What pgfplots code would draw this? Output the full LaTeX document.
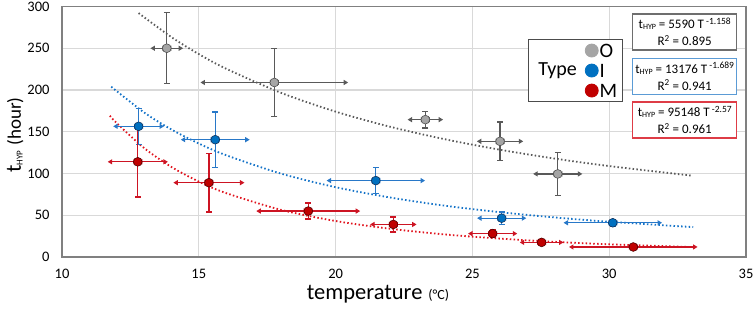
\documentclass[border=0pt]{standalone}
\usepackage{fontspec}
\setmainfont{Carlito}
\usepackage{pgfplots}
\usepackage{pgfplotstable}
\pgfplotsset{compat=1.18}
\usetikzlibrary{arrows.meta}

\definecolor{gridc}{RGB}{217,217,217}
\definecolor{framec}{RGB}{128,128,128}
\definecolor{ofill}{RGB}{165,165,165}
\definecolor{oedge}{RGB}{80,80,80}
\definecolor{oerr}{RGB}{89,89,89}
\definecolor{ifill}{RGB}{0,112,192}
\definecolor{iedge}{RGB}{20,50,90}
\definecolor{ierr}{RGB}{40,120,200}
\definecolor{mfill}{RGB}{192,0,0}
\definecolor{medge}{RGB}{80,0,0}
\definecolor{merr}{RGB}{205,20,35}
\definecolor{oline}{RGB}{89,89,89}
\definecolor{iline}{RGB}{20,115,200}
\definecolor{mline}{RGB}{225,20,30}
\definecolor{obox}{RGB}{110,110,110}
\definecolor{ibox}{RGB}{91,155,213}
\definecolor{mbox}{RGB}{222,60,70}

\pgfplotstableread{
x y ex ey
13.83 250 0.6 42.5
17.76 209 2.7 41
23.28 164.5 0.65 10
26.01 138.5 0.85 23
28.12 99.5 0.9 26
}\odata
\pgfplotstableread{
x y ex ey
12.8 156.5 0.93 21.5
15.6 140.5 1.26 33
21.47 91.5 1.8 15.5
26.07 46.5 0.9 7.5
30.13 41 1.8 4
}\idata
\pgfplotstableread{
x y ex ey
12.77 114 1.1 42
15.37 89 1.3 35
19.0 55 1.9 9.5
22.11 39 0.85 9
25.74 28 0.9 5
27.53 17.5 0.8 2
30.88 12 2.35 1.5
}\mdata

\tikzset{
  xarr/.style={line width=1.3pt, {Triangle[length=4.5pt,width=5pt]}-{Triangle[length=4.5pt,width=5pt]}},
}
\pgfplotsset{
  trend/.style={line width=1.8pt, dash pattern=on 1.5pt off 2.3pt, smooth, forget plot},
}

\begin{document}
\begin{tikzpicture}
\useasboundingbox (0,0) rectangle (754pt,312pt);
\begin{axis}[
  at={(62pt,55pt)}, anchor=south west,
  scale only axis, width=684pt, height=250.5pt,
  xmin=10, xmax=35, ymin=0, ymax=300,
  xtick={10,15,...,35}, ytick={0,50,...,300},
  grid=major, grid style={gridc, line width=1.1pt},
  axis line style={framec, line width=1.3pt},
  tick style={draw=none},
  ticklabel style={font=\fontsize{14.5}{16}\selectfont},
  xticklabel style={yshift=-9pt},
  yticklabel style={xshift=-9pt},
  /pgf/number format/assume math mode=true,
  legend style={at={(axis cs:27.03,260.9)}, anchor=north west,
    draw=black!70, fill=white, line width=0.8pt,
    inner xsep=5pt, inner ysep=4pt, row sep=6pt,
    nodes={inner sep=0pt, font=\fontsize{20.5}{20.5}\selectfont, text height=14pt, text depth=0pt},
    label={[anchor=west, xshift=7pt, font=\fontsize{20}{20}\selectfont]west:Type}},
  legend cell align=left,
  legend image code/.code={\path (-58pt,0pt) (7.5pt,0pt); \draw[#1] plot coordinates {(0pt,0pt)};},
]
% trend lines
\addplot[oline, trend] coordinates {
(12.8,292.1) (14,263.3) (15,243.0) (16,225.5) (18,196.7) (20,174.1) (22,155.9) (24,141.0) (26,128.5) (28,117.9) (30,108.9) (33,97.5)};
\addplot[iline, trend] coordinates {
(11.8,203.9) (13,173.1) (14,152.7) (15,135.9) (16,121.9) (18,99.9) (20,83.6) (22,71.2) (24,61.4) (26,53.7) (28,47.4) (30,42.2) (33.07,35.8)};
\addplot[mline, trend] coordinates {
(11.75,169.2) (12,160.3) (13,130.5) (14,107.8) (15,90.3) (16,76.5) (18,56.5) (20,43.1) (22,33.8) (24,27.0) (26,22.0) (28,18.2) (30,15.2) (33.1,11.8)};
% O error bars
\addplot[draw=none, mark=none, forget plot, error bars/.cd, x dir=both, x explicit, error mark=none,
  error bar style={xarr, draw=oerr, fill=oerr}] table[x=x, y=y, x error=ex] {\odata};
\addplot[draw=none, mark=none, forget plot, error bars/.cd, y dir=both, y explicit, error mark=-,
  error mark options={rotate=90, mark size=3pt, line width=1.3pt, draw=oerr},
  error bar style={line width=1.3pt, draw=oerr}] table[x=x, y=y, y error=ey] {\odata};
% I error bars
\addplot[draw=none, mark=none, forget plot, error bars/.cd, x dir=both, x explicit, error mark=none,
  error bar style={xarr, draw=ierr, fill=ierr}] table[x=x, y=y, x error=ex] {\idata};
\addplot[draw=none, mark=none, forget plot, error bars/.cd, y dir=both, y explicit, error mark=-,
  error mark options={rotate=90, mark size=3pt, line width=1.3pt, draw=ierr},
  error bar style={line width=1.3pt, draw=ierr}] table[x=x, y=y, y error=ey] {\idata};
% M error bars
\addplot[draw=none, mark=none, forget plot, error bars/.cd, x dir=both, x explicit, error mark=none,
  error bar style={xarr, draw=merr, fill=merr}] table[x=x, y=y, x error=ex] {\mdata};
\addplot[draw=none, mark=none, forget plot, error bars/.cd, y dir=both, y explicit, error mark=-,
  error mark options={rotate=90, mark size=3pt, line width=1.3pt, draw=merr},
  error bar style={line width=1.3pt, draw=merr}] table[x=x, y=y, y error=ey] {\mdata};
% markers
\addplot[only marks, mark=*, mark size=4.4pt, mark options={fill=ofill, draw=oedge, line width=0.6pt}, forget plot] table[x=x,y=y] {\odata};
\addplot[only marks, mark=*, mark size=4.4pt, mark options={fill=ifill, draw=iedge, line width=0.6pt}, forget plot] table[x=x,y=y] {\idata};
\addplot[only marks, mark=*, mark size=4.4pt, mark options={fill=mfill, draw=medge, line width=0.6pt}, forget plot] table[x=x,y=y] {\mdata};
% legend
\addlegendimage{only marks, mark=*, mark size=6.5pt, mark options={fill=ofill, draw=ofill}}
\addlegendentry{O}
\addlegendimage{only marks, mark=*, mark size=6.5pt, mark options={fill=ifill, draw=ifill}}
\addlegendentry{I}
\addlegendimage{only marks, mark=*, mark size=6.5pt, mark options={fill=mfill, draw=mfill}}
\addlegendentry{M}
\end{axis}
% equation boxes
\tikzset{eqbox/.style={draw=#1, line width=1.1pt, fill=white, minimum width=104pt, minimum height=36pt, align=center, inner sep=1pt, font=\fontsize{13}{17}\selectfont}}
\newcommand{\thyp}{t{\fontsize{8}{8}\selectfont\raisebox{-1pt}{HYP}}}
\node[eqbox=obox] at (684.7pt,280pt) {\thyp{} = 5590 T\,\raisebox{4.5pt}{\fontsize{9.5}{9.5}\selectfont -1.158}\\R\textsuperscript{2} = 0.895};
\node[eqbox=ibox] at (684.7pt,235.7pt) {\thyp{} = 13176 T\,\raisebox{4.5pt}{\fontsize{9.5}{9.5}\selectfont -1.689}\\R\textsuperscript{2} = 0.941};
\node[eqbox=mbox] at (684.7pt,192pt) {\thyp{} = 95148 T\,\raisebox{4.5pt}{\fontsize{9.5}{9.5}\selectfont -2.57}\\R\textsuperscript{2} = 0.961};
% axis labels
\node[rotate=90, anchor=base] at (21pt,177pt) {{\fontsize{22}{22}\selectfont t}{\fontsize{9}{9}\selectfont\raisebox{-1.5pt}{HYP}}\hspace{5pt}{\fontsize{19}{19}\selectfont (hour)}};
\node[anchor=base west, inner sep=0pt] at (306.7pt,12pt) {{\fontsize{22.5}{22.5}\selectfont temperature}\hspace{6pt}{\fontsize{14}{14}\selectfont (°C)}};
\end{tikzpicture}
\end{document}
